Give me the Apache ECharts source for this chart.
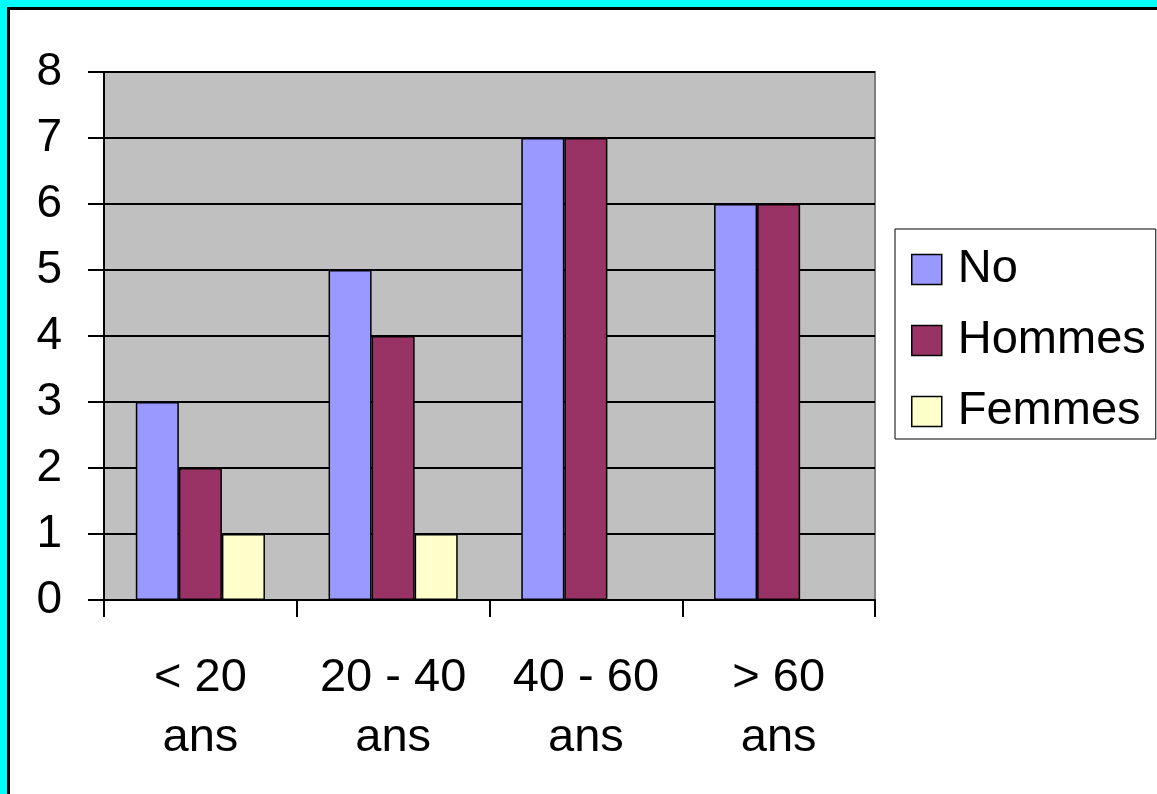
<!DOCTYPE html>
<html>
<head>
<meta charset="utf-8">
<script src="https://cdn.jsdelivr.net/npm/echarts@6/dist/echarts.min.js"></script>
<style>
html,body{margin:0;padding:0;width:1157px;height:794px;overflow:hidden;background:#00FFFF;}
#frame{position:absolute;left:7px;top:7px;width:1160px;height:800px;background:#fff;border-left:3px solid #000;border-top:3px solid #000;}
#chart{position:absolute;left:0;top:0;width:1157px;height:794px;}
</style>
</head>
<body>
<div id="frame"></div>
<div id="chart"></div>
<script>
const categories = ['< 20\nans', '20 - 40\nans', '40 - 60\nans', '> 60\nans'];
const seriesNames = ['No', 'Hommes', 'Femmes'];
const noValues = [3, 5, 7, 6];
const hommesValues = [2, 4, 7, 6];
const femmesValues = [1, 1, 0, 0];
const yTicks = [0, 1, 2, 3, 4, 5, 6, 7, 8];
const colors = ['#9999FF', '#993366', '#FFFFCC'];

const font = "'Liberation Sans', Arial, sans-serif";
const chart = echarts.init(document.getElementById('chart'), null, {renderer: 'canvas'});
const values = [noValues, hommesValues, femmesValues];
chart.setOption({
  backgroundColor: 'transparent',
  animation: false,
  textStyle: {fontFamily: font},
  grid: {
    left: 104, right: 282, top: 72, bottom: 194,
    show: true, backgroundColor: '#C0C0C0', borderColor: '#808080', borderWidth: 2
  },
  legend: {
    data: seriesNames,
    orient: 'vertical',
    left: 895, top: 229,
    padding: [17, 10, 4, 16],
    itemWidth: 30, itemHeight: 30, itemGap: 24,
    borderColor: '#000', borderWidth: 1,
    backgroundColor: '#fff',
    icon: 'rect',
    itemStyle: {borderColor: '#000', borderWidth: 1.5},
    textStyle: {fontSize: 47, color: '#000', fontFamily: font, padding: [0, 0, 0, 11]}
  },
  xAxis: {
    type: 'category',
    data: categories,
    axisLine: {lineStyle: {color: '#000', width: 2}},
    axisTick: {show: true, length: 17, lineStyle: {color: '#000', width: 2}},
    axisLabel: {fontSize: 47, color: '#000', lineHeight: 60, margin: 48, fontFamily: font, interval: 0}
  },
  yAxis: {
    type: 'value',
    min: yTicks[0], max: yTicks[yTicks.length - 1], interval: 1,
    axisLine: {show: true, lineStyle: {color: '#000', width: 2}},
    axisTick: {show: true, length: 16, lineStyle: {color: '#000', width: 2}},
    axisLabel: {fontSize: 46, color: '#000', margin: 42, fontFamily: font},
    splitLine: {show: true, lineStyle: {color: '#000', width: 2}}
  },
  series: seriesNames.map((name, i) => ({
    name: name,
    type: 'bar',
    data: values[i],
    barGap: '0%',
    barCategoryGap: '33%',
    itemStyle: {color: colors[i], borderColor: '#000', borderWidth: 1.5}
  }))
});
</script>
</body>
</html>
